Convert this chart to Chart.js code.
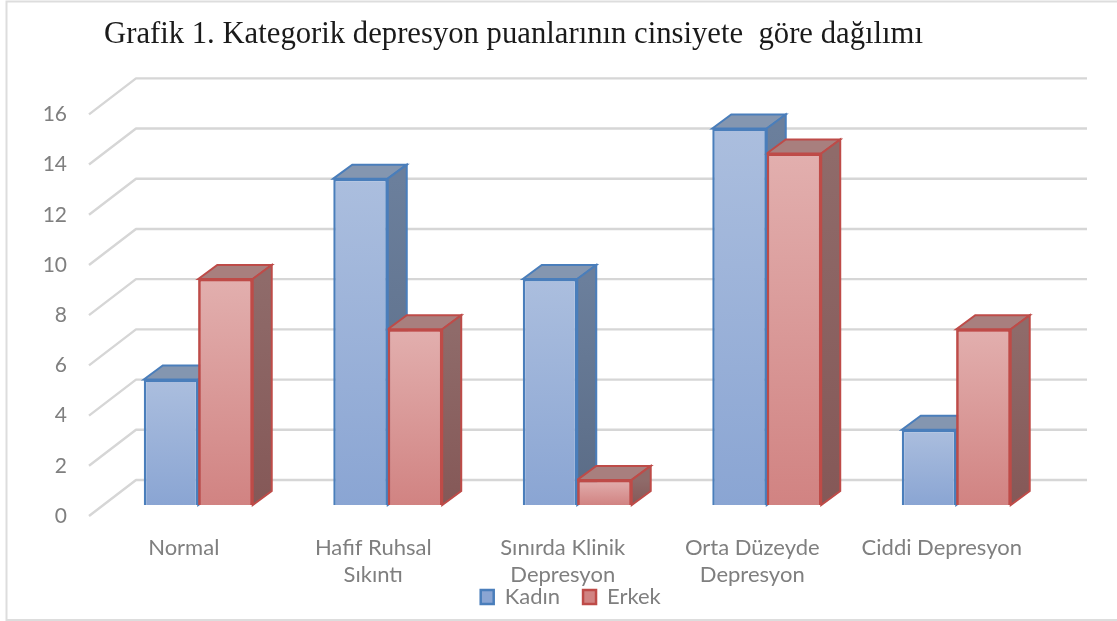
<!DOCTYPE html>
<html>
<head>
<meta charset="utf-8">
<script src="https://cdn.jsdelivr.net/npm/chart.js"></script>
<style>
html, body { margin: 0; padding: 0; background: #fff; overflow: hidden; }
#wrap { position: relative; width: 1117px; height: 621px; }
</style>
</head>
<body>
<div id="wrap"><canvas id="depChart"></canvas></div>
<script>
var categories = ['Normal', ['Hafif Ruhsal', 'Sıkıntı'], ['Sınırda Klinik', 'Depresyon'], ['Orta Düzeyde', 'Depresyon'], 'Ciddi Depresyon'];
var kadin = [5, 13, 9, 15, 3];
var erkek = [9, 7, 1, 14, 7];
var titleText = 'Grafik 1. Kategorik depresyon puanlarının cinsiyete  göre dağılımı';

var GRAY = '#7f7f7f';

function faceGradient(top, bottom) {
    return function (c) {
        var chart = c.chart;
        if (c.dataIndex === undefined || !chart.chartArea) return top;
        var y0 = chart.scales.y.getPixelForValue(c.raw);
        var y1 = chart.scales.y.getPixelForValue(0);
        var g = chart.ctx.createLinearGradient(0, y0, 0, y1);
        g.addColorStop(0, top);
        g.addColorStop(1, bottom);
        return g;
    };
}

function drawSides(ctx, meta, ds) {
    meta.data.forEach(function (bar) {
        var l = bar.x - bar.width / 2, r = bar.x + bar.width / 2, t = bar.y, b = bar.base;
        var dx = 19, dy = -14;
        ctx.lineWidth = 2;
        ctx.lineJoin = 'miter';
        ctx.strokeStyle = ds.borderColor;

        ctx.fillStyle = ds.topColor;
        ctx.beginPath();
        ctx.moveTo(l, t);
        ctx.lineTo(l + dx, t + dy);
        ctx.lineTo(r + dx, t + dy);
        ctx.lineTo(r, t);
        ctx.closePath();
        ctx.fill();
        ctx.stroke();

        var g = ctx.createLinearGradient(0, t, 0, b);
        g.addColorStop(0, ds.sideTop);
        g.addColorStop(1, ds.sideBottom);
        ctx.fillStyle = g;
        ctx.beginPath();
        ctx.moveTo(r, t);
        ctx.lineTo(r + dx, t + dy);
        ctx.lineTo(r + dx, b + dy);
        ctx.lineTo(r, b);
        ctx.closePath();
        ctx.fill();
        ctx.stroke();
    });
}

// frame, fake 3d wall and bar sides
var depth = {
    id: 'depth',
    beforeDraw: function (chart) {
        var ctx = chart.ctx;
        ctx.save();
        ctx.strokeStyle = '#dddddd';
        ctx.lineWidth = 2;
        ctx.strokeRect(6.5, 1.5, 1200, 618.5);
        ctx.restore();
    },
    afterLayout: function (chart) {
        chart.titleBlock.left = 104;
        chart.legend.left += 52.5;
        chart.legend.right += 52.5;
        // two line labels run down into the legend box, do not clip them
        chart.scales.x.bottom += 50;
    },
    beforeDatasetsDraw: function (chart) {
        var ctx = chart.ctx, a = chart.chartArea;
        ctx.save();
        ctx.strokeStyle = '#d6d6d6';
        ctx.lineWidth = 2.4;
        ctx.lineJoin = 'round';
        chart.scales.y.ticks.forEach(function (t) {
            var y = chart.scales.y.getPixelForValue(t.value);
            ctx.beginPath();
            ctx.moveTo(a.left, y);
            ctx.lineTo(a.left + 47, y - 36);
            ctx.lineTo(a.right + 50.5, y - 36);
            ctx.stroke();
        });
        ctx.translate(14.5, -11);
        drawSides(ctx, chart.getDatasetMeta(0), chart.data.datasets[0]);
        drawSides(ctx, chart.getDatasetMeta(1), chart.data.datasets[1]);
        ctx.restore();
    },
    beforeDatasetDraw: function (chart) {
        // bar faces sit a little behind the axis plane
        chart.ctx.save();
        chart.ctx.translate(14.5, -11);
    },
    afterDatasetDraw: function (chart, args) {
        // Erkek has to stay in front of Kadin, library draws it first
        if (args.index === 0) {
            chart.getDatasetMeta(1).data.forEach(function (bar) {
                bar.draw(chart.ctx);
            });
        }
        chart.ctx.restore();
    }
};

new Chart(document.getElementById('depChart'), {
    type: 'bar',
    plugins: [depth],
    data: {
        labels: categories,
        datasets: [{
            label: 'Kadın',
            data: kadin,
            clip: false,
            backgroundColor: faceGradient('#abbede', '#8aa5d3'),
            borderColor: '#4a7ebb',
            borderWidth: 2.5,
            topColor: '#8496b0',
            sideTop: '#6b7f9c',
            sideBottom: '#5a6b85'
        }, {
            label: 'Erkek',
            data: erkek,
            clip: false,
            backgroundColor: faceGradient('#e2afae', '#d18382'),
            borderColor: '#be4b48',
            borderWidth: 2.5,
            topColor: '#a87f7e',
            sideTop: '#8f6b6a',
            sideBottom: '#855857'
        }]
    },
    options: {
        responsive: true,
        maintainAspectRatio: false,
        animation: { duration: 0 },
        layout: { padding: { left: 0, right: 80.5, top: 0, bottom: 3 } },
        categoryPercentage: 0.575,
        barPercentage: 1,
        plugins: {
            title: {
                display: true,
                text: titleText,
                align: 'start',
                color: '#1a1a1a',
                font: { family: '"Liberation Serif"', size: 30.7, weight: 'normal', lineHeight: 1.2 },
                padding: { top: 17, bottom: 60.5 }
            },
            legend: {
                position: 'bottom',
                labels: {
                    color: GRAY,
                    font: { family: 'Lato', size: 22 },
                    boxWidth: 13,
                    boxHeight: 14,
                    padding: 23
                }
            },
            tooltip: { enabled: false }
        },
        scales: {
            x: {
                grid: { display: false },
                border: { display: false },
                afterFit: function (s) { s.height = 47; },
                ticks: {
                    color: GRAY,
                    font: { family: 'Lato', size: 22, lineHeight: 1.23 },
                    padding: 10.5,
                    maxRotation: 0,
                    autoSkip: false
                }
            },
            y: {
                min: 0,
                max: 16,
                grid: { display: false },
                border: { display: false },
                afterFit: function (s) { s.width = 89; },
                ticks: {
                    stepSize: 2,
                    color: GRAY,
                    font: { family: 'Lato', size: 21 },
                    padding: 14
                }
            }
        }
    }
});
</script>
</body>
</html>
